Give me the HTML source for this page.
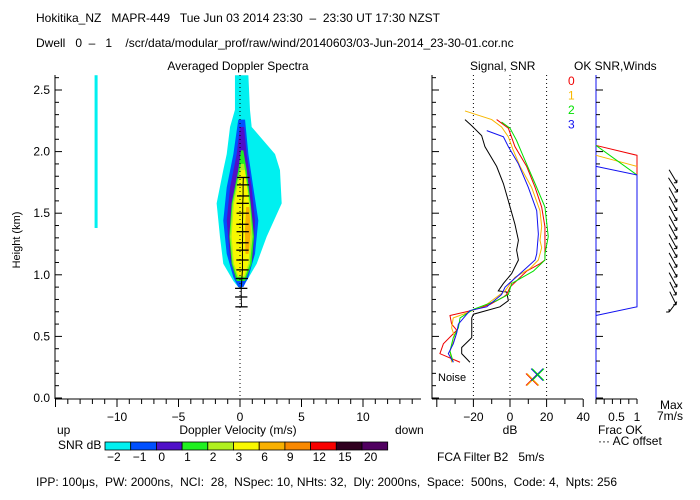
<!DOCTYPE html>
<html><head><meta charset="utf-8">
<style>
body{margin:0;background:#fff;}
svg{display:block;font-family:"Liberation Sans",sans-serif;}
text{font-size:12px;white-space:pre;}
</style></head>
<body>
<svg id="c" width="700" height="500" viewBox="0 0 700 500" xml:space="preserve">
<rect width="700" height="500" fill="#fff"/>
<text x="36" y="22">Hokitika_NZ   MAPR-449   Tue Jun 03 2014 23:30  –  23:30 UT 17:30 NZST</text>
<text x="36" y="47">Dwell   0  –   1    /scr/data/modular_prof/raw/wind/20140603/03-Jun-2014_23-30-01.cor.nc</text>
<text x="238" y="70" text-anchor="middle">Averaged Doppler Spectra</text>
<text x="470" y="70">Signal, SNR</text>
<text x="574" y="70">OK SNR,Winds</text>
<text transform="translate(20,240) rotate(-90)" text-anchor="middle" style="font-size:11px">Height (km)</text>
<text x="238" y="434" text-anchor="middle">Doppler Velocity (m/s)</text>
<text x="57" y="434">up</text>
<text x="395" y="434">down</text>
<text x="58" y="449">SNR dB</text>
<text x="510" y="434" text-anchor="middle">dB</text>
<text x="437" y="461">FCA Filter B2   5m/s</text>
<text x="660" y="409">Max</text>
<text x="657" y="420">7m/s</text>
<text x="598" y="434">Frac OK</text>
<text x="598" y="445">··· AC offset</text>
<text x="438" y="381" style="font-size:11px">Noise</text>
<text x="36" y="486">IPP: 100μs,  PW: 2000ns,  NCI:  28,  NSpec: 10, NHts: 32,  Dly: 2000ns,  Space:  500ns,  Code: 4,  Npts: 256</text>
<g id="g"></g>
</svg>
<script>
const specLevels=['cyan','blue','purple','green','yg','yellow','orange'];
const specColors=['#00f0f0','#0050ff','#5010c8','#20f020','#b0f020','#f8f800','#f8b000'];
const cyanH=[2.62,2.34,2.20,1.98,1.85,1.58,1.31,1.09,0.95,0.90];
const cyanL=[-0.41,-0.41,-0.81,-1.08,-1.36,-1.9,-1.63,-1.36,-0.54,-0.14];
const cyanR=[0.68,0.81,0.95,2.85,3.25,3.39,2.17,1.36,0.54,0.14];
const blueH=[2.26,1.98,1.71,1.44,1.17,0.98,0.90];
const blueL=[-0.14,-0.54,-1.08,-1.36,-1.08,-0.54,-0.14];
const blueR=[0.41,0.68,1.08,1.49,1.22,0.68,0.27];
const purpH=[2.20,1.98,1.71,1.44,1.14,0.98];
const purpL=[0,-0.27,-0.81,-1.08,-0.81,-0.41];
const purpR=[0.33,0.54,0.95,1.22,1.08,0.54];
const greenH=[2.01,1.85,1.58,1.31,1.09,0.95];
const greenL=[0.08,-0.14,-0.68,-0.87,-0.68,-0.27];
const greenR=[0.27,0.54,0.87,1.14,0.95,0.41];
const ygH=[1.90,1.58,1.31,1.09,0.98];
const ygL=[0.08,-0.6,-0.81,-0.6,-0.22];
const ygR=[0.33,0.81,1.03,0.81,0.41];
const yelH=[1.85,1.58,1.31,1.09,0.99];
const yelL=[0.08,-0.49,-0.68,-0.49,-0.14];
const yelR=[0.41,0.73,0.87,0.68,0.33];
const orH=[1.55,1.35,1.17];
const orL=[0.5,0.4,0.45];
const orR=[0.75,0.87,0.7];
const stripV=-11.7, stripTop=2.62, stripBot=1.38;
const errH=[1.79,1.73,1.64,1.58,1.50,1.41,1.35,1.26,1.20,1.12,1.04,0.97,0.89,0.82,0.74];
const errV=[0.27,0.25,0.25,0.22,0.22,0.2,0.22,0.2,0.2,0.2,0.2,0.15,0.1,0.1,0.12];
const velTicks=[-10,-5,0,5,10];
const hTicks=[0,0.5,1.0,1.5,2.0,2.5];
const dbTicks=[-20,0,20,40];
const cbLabels=['-2','-1','0','1','2','3','6','9','12','15','20'];
const cbColors=['#00f0f0','#0050ff','#5010c8','#20f020','#b0f020','#f8f800','#f8b000','#f88800','#f80000','#300020','#500060'];
const blackDb=[-24.6,-20.9,-15.5,-13.7,-7.3,-3.6,-0.9,2.7,4.6,3.6,4.6,0.9,-3.6,-6.4,-1.8,-0.9,-5.5,-20,-20.9,-20.9,-26.4,-26.4,-21.9];
const blackH=[2.26,2.21,2.13,2.04,1.88,1.74,1.60,1.41,1.28,1.20,1.12,1.01,0.93,0.87,0.86,0.79,0.74,0.68,0.65,0.49,0.41,0.36,0.29];
const redDb=[-7.3,-0.9,2.7,9.1,13.7,17.3,19.1,19.1,19.1,16.4,9.1,0,-1.8,-3.6,-10.9,-20.9,-32.8,-31.9,-29.1,-36.4,-38.3,-27.3];
const redH=[2.26,2.19,2.04,1.88,1.71,1.55,1.39,1.26,1.12,1.09,1.03,0.90,0.84,0.82,0.76,0.71,0.67,0.60,0.55,0.44,0.36,0.29];
const orgDb=[-24.6,-10,-4.6,-0.9,1.8,5.5,11.8,16.4,17.3,16.4,17.3,15.5,10.9,2.7,-2.7,-12.7,-23.7,-31,-31.9,-30.1,-32.8,-31.9];
const orgH=[2.33,2.26,2.20,2.12,2.01,1.88,1.71,1.52,1.39,1.28,1.22,1.12,1.05,0.98,0.87,0.76,0.69,0.65,0.57,0.49,0.38,0.29];
const grnDb=[-4.6,0,3.6,7.3,13.7,19.1,20.9,19.1,19.1,12.8,0.9,-0.9,-7.3,-20,-27.3,-28.2,-31,-32.8,-31];
const grnH=[2.24,2.19,2.09,1.96,1.74,1.55,1.31,1.17,1.12,1.03,0.93,0.84,0.79,0.72,0.65,0.57,0.49,0.38,0.29];
const bluDb=[-12.7,-3.6,-0.9,4.6,10,14.6,15.5,14.6,13.7,5.5,-2.7,-4.6,-12.7,-21.9,-28.2,-29.1,-31,-33.7,-31];
const bluH=[2.17,2.12,2.04,1.90,1.71,1.52,1.33,1.17,1.12,1.01,0.90,0.84,0.74,0.71,0.60,0.53,0.44,0.36,0.29];
const noiseDb=[12,12,14.8,14.8];
const noiseH=[0.15,0.15,0.19,0.19];
const fracRedF=[0,1,1], fracRedH=[2.05,1.97,1.5];
const fracOrgF=[0,1], fracOrgH=[1.97,1.88];
const fracGrnF=[0,1], fracGrnH=[2.05,1.81];
const fracBluF=[0,1,1,0], fracBluH=[1.88,1.81,0.74,0.67];
const windH=[1.80,1.73,1.65,1.58,1.50,1.42,1.35,1.27,1.20,1.12,1.04,0.96,0.89,0.81,0.74];
const windU=[3,3.5,3,3,3,3,3,3,3,3,3,3,2.5,2.5,-3];
const windV=[-5,-5.5,-5.5,-5.5,-5.5,-5.5,-5.5,-5.5,-5.5,-5.5,-5.5,-5.5,-5,-5,-4];

const NS='http://www.w3.org/2000/svg';
const G=document.getElementById('g');
function vx(v){return 240+v*12.3;}
function hy(h){return 398-h*123.2;}
function dbx(d){return 510+d*1.83;}
function fx(f){return 596+f*41;}
function mk(tag,attrs,parent){const e=document.createElementNS(NS,tag);for(const k in attrs)e.setAttribute(k,attrs[k]);(parent||G).appendChild(e);return e;}

const specData=[[cyanH,cyanL,cyanR],[blueH,blueL,blueR],[purpH,purpL,purpR],[greenH,greenL,greenR],[ygH,ygL,ygR],[yelH,yelL,yelR],[orH,orL,orR]];
specData.forEach((d,i)=>{
  const [H,L,R]=d;let pts=[];
  for(let j=0;j<H.length;j++)pts.push(vx(R[j])+','+hy(H[j]));
  for(let j=H.length-1;j>=0;j--)pts.push(vx(L[j])+','+hy(H[j]));
  const p=mk('polygon',{points:pts.join(' '),fill:specColors[i]});
  
  
});
const strip=mk('rect',{x:vx(stripV)-1.5,y:hy(stripTop),width:3,height:hy(stripBot)-hy(stripTop),fill:'#00f0f0'});


const zl=mk('line',{x1:vx(0),y1:75,x2:vx(0),y2:399,stroke:'#000','stroke-dasharray':'1,3'});


let ep=[];
errH.forEach((h,i)=>{ep.push(vx(errV[i])+','+hy(h));
  const b=mk('line',{x1:vx(errV[i]-0.5),x2:vx(errV[i]+0.5),y1:hy(h),y2:hy(h),stroke:'#000','stroke-width':1.3});
  
  
});
const epl=mk('polyline',{points:ep.join(' '),fill:'none',stroke:'#000'});



function axisLine(x1,y1,x2,y2,name,col){const l=mk('line',{x1,y1,x2,y2,stroke:col||'#000'});return l;}
axisLine(55,75,55,399,'spectra-y-axis');
axisLine(55,399,421,399,'spectra-x-axis');
for(let v=-15;v<=14;v++){const l=mk('line',{x1:vx(v),x2:vx(v),y1:399,y2:v%5==0?407:404,stroke:'#000'});}
velTicks.forEach(v=>{const t=mk('text',{x:vx(v),y:421,'text-anchor':'middle'});t.textContent=String(v).replace('-','−');});
function yTicks(x0,name){for(let k=0;k<=26;k++){const h=k/10;const l=mk('line',{x1:x0,x2:x0+(k%5==0?7:4),y1:hy(h),y2:hy(h),stroke:'#000'});}}
yTicks(55,'y-tick');
hTicks.forEach(h=>{const t=mk('text',{x:50,y:hy(h)+4,'text-anchor':'end'});t.textContent=h.toFixed(1);});

cbColors.forEach((c,i)=>{const r=mk('rect',{x:105+i*25.7,y:442,width:25.7,height:8,fill:c,stroke:'#000','stroke-width':0.8});
 const t=mk('text',{x:107+i*25.7,y:461});t.textContent=cbLabels[i].replace('-','−');});

axisLine(432,75,432,399,'snr-y-axis');
axisLine(432,399,583,399,'snr-x-axis');
yTicks(432,'snr-y-tick');
for(let d=-40;d<=40;d+=10){const l=mk('line',{x1:dbx(d),x2:dbx(d),y1:399,y2:d%20==0?407:404,stroke:'#000'});}
dbTicks.forEach(d=>{const t=mk('text',{x:dbx(d),y:421,'text-anchor':'middle'});t.textContent=String(d).replace('-','−');
 if(d<40){const g=mk('line',{x1:dbx(d),x2:dbx(d),y1:75,y2:399,stroke:'#000','stroke-dasharray':'1,3'});}});
const prof=[['black',blackDb,blackH,'#000'],['red',redDb,redH,'#f00000'],['orange',orgDb,orgH,'#f8b800'],['green',grnDb,grnH,'#00e000'],['blue',bluDb,bluH,'#1010f0']];
prof.forEach(p=>{const pts=p[1].map((d,i)=>dbx(d)+','+hy(p[2][i])).join(' ');
 const l=mk('polyline',{points:pts,fill:'none',stroke:p[3]});});
const ncol=['#f00000','#f8b800','#1010f0','#00e000'];
noiseDb.forEach((d,i)=>{const x=dbx(d)+(i%2),y=hy(noiseH[i]);const p=mk('path',{d:`M${x-6},${y-6}L${x+6},${y+6}M${x+6},${y-6}L${x-6},${y+6}`,stroke:ncol[i],fill:'none'});});
['0','1','2','3'].forEach((s,i)=>{const t=mk('text',{x:568,y:85+i*14.5,style:'fill:'+['#f00000','#f8b800','#00e000','#1010f0'][i]});t.textContent=s;});

axisLine(596,75,596,399,'frac-y-axis','#1010f0');
axisLine(596,399,637,399,'frac-x-axis');
for(let f=0;f<=1.001;f+=0.2){const l=mk('line',{x1:fx(f),x2:fx(f),y1:399,y2:404,stroke:'#000'});}
[['0.5',0.5],['1',1]].forEach(a=>{const t=mk('text',{x:fx(a[1]),y:421,'text-anchor':'middle'});t.textContent=a[0];});
for(let k=0;k<=26;k++){const l=mk('line',{x1:596,x2:k%5==0?603:600,y1:hy(k/10),y2:hy(k/10),stroke:'#000'});}
const fr=[['red',fracRedF,fracRedH,'#f00000'],['orange',fracOrgF,fracOrgH,'#f8b800'],['green',fracGrnF,fracGrnH,'#00e000'],['blue',fracBluF,fracBluH,'#1010f0']];
fr.forEach(p=>{const pts=p[1].map((f,i)=>fx(f)+','+hy(p[2][i])).join(' ');const l=mk('polyline',{points:pts,fill:'none',stroke:p[3]});});
windH.forEach((h,i)=>{const x0=673,y0=hy(h),s=1.3;const x1=x0+windU[i]*s,y1=y0-windV[i]*s,x2=x0-windU[i]*s,y2=y0+windV[i]*s;
 const p=mk('path',{d:`M${x2},${y2}L${x1},${y1}M${x1},${y1}l-3,0M${x1},${y1}l0,-3`,stroke:'#000',fill:'none'});});
</script>
</body></html>
